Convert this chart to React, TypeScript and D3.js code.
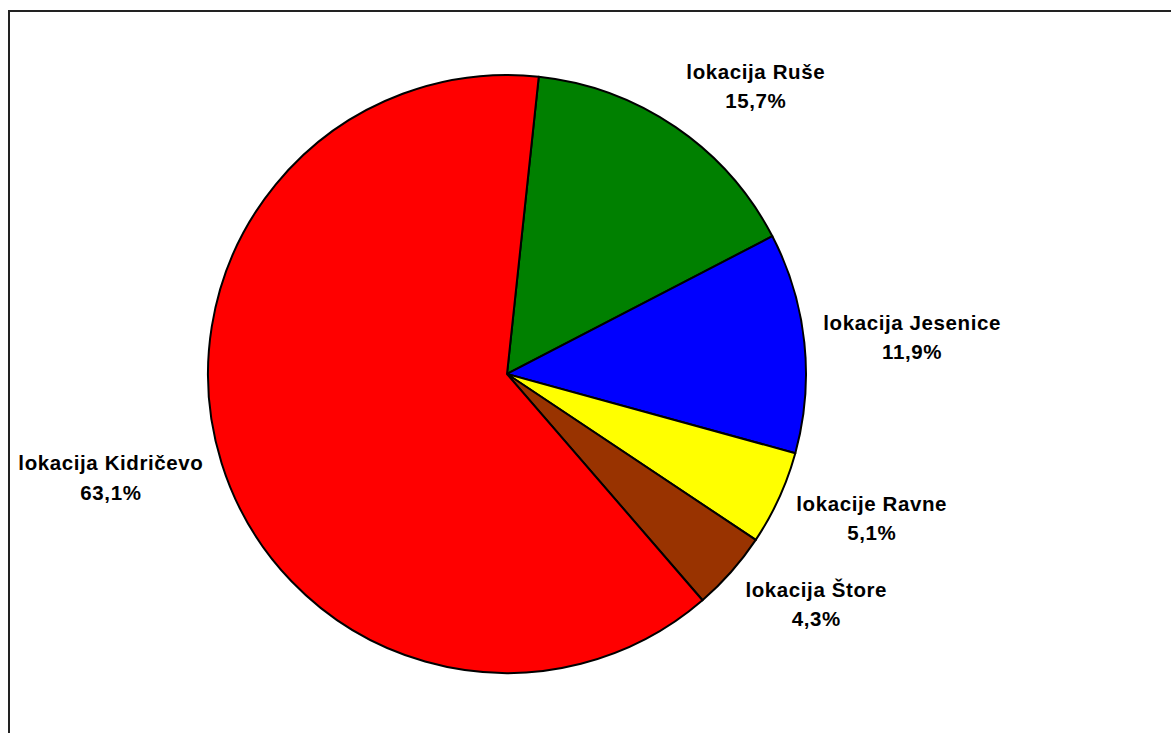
import { useEffect, useRef } from "react";
import * as d3 from "d3";

const categories: string[] = [
  "lokacija Ruše",
  "lokacija Jesenice",
  "lokacije Ravne",
  "lokacija Štore",
  "lokacija Kidričevo",
];
const shares: number[] = [15.7, 11.9, 5.1, 4.3, 63.1];
const sliceColors: string[] = ["#008000", "#0000FF", "#FFFF00", "#993300", "#FF0000"];

const W = 1171;
const H = 733;

export default function App() {
  const svgRef = useRef<SVGSVGElement | null>(null);

  useEffect(() => {
    if (!svgRef.current) return;
    const svg = d3.select(svgRef.current);
    svg.selectAll("*").remove();

    // outer chart frame (runs off the right/bottom of the window)
    svg.append("rect")
      .attr("x", 9).attr("y", 11)
      .attr("width", W + 40).attr("height", H + 40)
      .attr("fill", "white")
      .attr("stroke", "#222").attr("stroke-width", 2);

    const cx = 507, cy = 374, radius = 299;
    const start = (6.1 * Math.PI) / 180;

    const pie = d3.pie<number>()
      .sort(null)
      .value((d: number) => d)
      .startAngle(start)
      .endAngle(start + 2 * Math.PI);
    const arcs = pie(shares);
    const arc = d3.arc<d3.PieArcDatum<number>>().innerRadius(0).outerRadius(radius);

    const g = svg.append("g").attr("transform", `translate(${cx},${cy})`);
    g.selectAll("path")
      .data(arcs)
      .join("path")
      .attr("d", arc as any)
      .attr("fill", (_d: any, i: number) => sliceColors[i])
      .attr("stroke", "#000")
      .attr("stroke-width", 2)
      .attr("stroke-linejoin", "round");

    // data labels, placed outside the pie like Excel does
    const labelRadius = 318;
    const fmt = (v: number) => v.toFixed(1).replace(".", ",") + "%";
    const labels = svg.append("g")
      .attr("font-family", "Arial, 'Liberation Sans', Helvetica, sans-serif")
      .attr("font-weight", "bold")
      .attr("font-size", 20.5)
      .attr("letter-spacing", 0.6)
      .attr("fill", "#000");

    arcs.forEach((a: any, i: number) => {
      const mid = (a.startAngle + a.endAngle) / 2;
      const s = Math.sin(mid), c = Math.cos(mid);
      const t = labels.append("text").attr("text-anchor", "middle");
      const l1 = t.append("tspan").text(categories[i]);
      const l2 = t.append("tspan").text(fmt(shares[i]));
      const w = Math.max(
        (l1.node() as any).getComputedTextLength(),
        (l2.node() as any).getComputedTextLength()
      );
      const h = 60;
      const bx = cx + labelRadius * s + Math.sign(s) * (w / 2);
      const by = cy - labelRadius * c - c * (h / 2);
      l1.attr("x", bx).attr("y", by - 7.75);
      l2.attr("x", bx).attr("y", by + 21.75);
    });
  }, []);

  return (
    <svg
      ref={svgRef}
      width={W}
      height={H}
      style={{ position: "absolute", left: 0, top: 0, background: "white" }}
    />
  );
}
